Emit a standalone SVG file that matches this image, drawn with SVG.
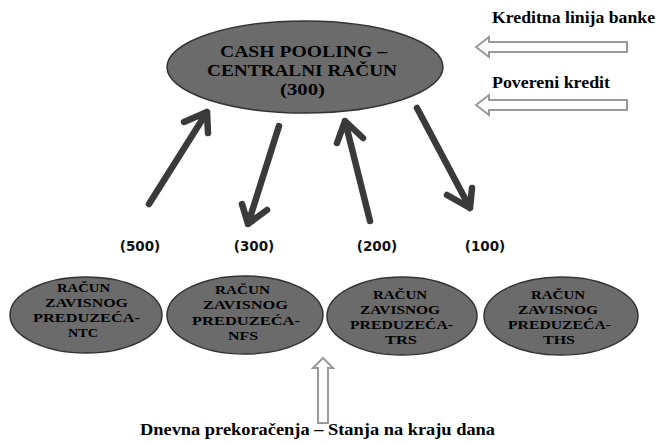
<svg xmlns="http://www.w3.org/2000/svg" width="658" height="444" viewBox="0 0 658 444">
<defs>
<style>
.node{fill:#6b6b6b;stroke:#333;stroke-width:1.5}
.dark{stroke:#3a3a3a;stroke-width:6.5;fill:none;stroke-linecap:round;stroke-linejoin:round}
.hollow{fill:#fff;stroke:#9a9a9a;stroke-width:2}
</style>
</defs>
<rect width="658" height="444" fill="#fff"/>
<g id="central">
<ellipse class="node" cx="305" cy="67" rx="138" ry="46"/>
<text font-family="Liberation Serif" font-weight="bold" font-size="16" x="220" y="57" textLength="167" lengthAdjust="spacingAndGlyphs">CASH POOLING –</text>
<text font-family="Liberation Serif" font-weight="bold" font-size="16" x="207" y="76" textLength="190" lengthAdjust="spacingAndGlyphs">CENTRALNI RAČUN</text>
<text font-family="Liberation Serif" font-weight="bold" font-size="16" x="280" y="95" textLength="45" lengthAdjust="spacingAndGlyphs">(300)</text>
</g>
<g id="ntc">
<ellipse class="node" cx="86" cy="315" rx="76" ry="38"/>
<text font-family="Liberation Serif" font-weight="bold" font-size="13" x="57" y="292" textLength="53" lengthAdjust="spacingAndGlyphs">RAČUN</text>
<text font-family="Liberation Serif" font-weight="bold" font-size="13" x="45" y="307" textLength="83" lengthAdjust="spacingAndGlyphs">ZAVISNOG</text>
<text font-family="Liberation Serif" font-weight="bold" font-size="13" x="33" y="322" textLength="107" lengthAdjust="spacingAndGlyphs">PREDUZEĆA-</text>
<text font-family="Liberation Serif" font-weight="bold" font-size="13" x="68" y="337" textLength="30" lengthAdjust="spacingAndGlyphs">NTC</text>
</g>
<g id="nfs">
<ellipse class="node" cx="245" cy="315" rx="78" ry="39"/>
<text font-family="Liberation Serif" font-weight="bold" font-size="13" x="215" y="294" textLength="55" lengthAdjust="spacingAndGlyphs">RAČUN</text>
<text font-family="Liberation Serif" font-weight="bold" font-size="13" x="203" y="309" textLength="85" lengthAdjust="spacingAndGlyphs">ZAVISNOG</text>
<text font-family="Liberation Serif" font-weight="bold" font-size="13" x="192" y="325" textLength="108" lengthAdjust="spacingAndGlyphs">PREDUZEĆA-</text>
<text font-family="Liberation Serif" font-weight="bold" font-size="13" x="228" y="340" textLength="30" lengthAdjust="spacingAndGlyphs">NFS</text>
</g>
<g id="trs">
<ellipse class="node" cx="402" cy="316" rx="75" ry="39"/>
<text font-family="Liberation Serif" font-weight="bold" font-size="13" x="373" y="299" textLength="54" lengthAdjust="spacingAndGlyphs">RAČUN</text>
<text font-family="Liberation Serif" font-weight="bold" font-size="13" x="360" y="314" textLength="80" lengthAdjust="spacingAndGlyphs">ZAVISNOG</text>
<text font-family="Liberation Serif" font-weight="bold" font-size="13" x="350" y="329" textLength="103" lengthAdjust="spacingAndGlyphs">PREDUZEĆA-</text>
<text font-family="Liberation Serif" font-weight="bold" font-size="13" x="385" y="344" textLength="32" lengthAdjust="spacingAndGlyphs">TRS</text>
</g>
<g id="ths">
<ellipse class="node" cx="561" cy="316" rx="77" ry="39"/>
<text font-family="Liberation Serif" font-weight="bold" font-size="13" x="531" y="299" textLength="54" lengthAdjust="spacingAndGlyphs">RAČUN</text>
<text font-family="Liberation Serif" font-weight="bold" font-size="13" x="518" y="314" textLength="80" lengthAdjust="spacingAndGlyphs">ZAVISNOG</text>
<text font-family="Liberation Serif" font-weight="bold" font-size="13" x="508" y="329" textLength="103" lengthAdjust="spacingAndGlyphs">PREDUZEĆA-</text>
<text font-family="Liberation Serif" font-weight="bold" font-size="13" x="543" y="344" textLength="32" lengthAdjust="spacingAndGlyphs">THS</text>
</g>
<g id="labels">
<text font-family="Liberation Serif" font-weight="bold" font-size="16" x="492" y="23" textLength="163" lengthAdjust="spacingAndGlyphs">Kreditna linija banke</text>
<text font-family="Liberation Serif" font-weight="bold" font-size="16" x="492" y="88" textLength="118" lengthAdjust="spacingAndGlyphs">Povereni kredit</text>
<text font-family="Liberation Serif" font-weight="bold" font-size="16" x="140" y="435" textLength="355" lengthAdjust="spacingAndGlyphs">Dnevna prekoračenja – Stanja na kraju dana</text>
</g>
<g id="amounts">
<text font-family="DejaVu Sans" font-weight="bold" font-size="13.5" fill="#111" text-anchor="middle" x="140" y="251">(500)</text>
<text font-family="DejaVu Sans" font-weight="bold" font-size="13.5" fill="#111" text-anchor="middle" x="254" y="251">(300)</text>
<text font-family="DejaVu Sans" font-weight="bold" font-size="13.5" fill="#111" text-anchor="middle" x="377" y="251">(200)</text>
<text font-family="DejaVu Sans" font-weight="bold" font-size="13.5" fill="#111" text-anchor="middle" x="485" y="251">(100)</text>
</g>
<g id="connectors">
<path class="dark" d="M149 204 L207 112 M184 122 L207 112 L208 133"/>
<path class="dark" d="M279 126 L248 224 M242 204 L248 224 L267 210"/>
<path class="dark" d="M370 221 L345 121 M337 143 L345 121 L363 138"/>
<path class="dark" d="M417 108 L470 208 M447 195 L470 208 L472 188"/>
<path class="hollow" d="M476 47 L489 37 L489 42 L627 42 L627 52 L489 52 L489 57 Z"/>
<path class="hollow" d="M476 105 L489 95 L489 100 L627 100 L627 110 L489 110 L489 115 Z"/>
<path class="hollow" d="M323 358 L333 368 L328 368 L328 423 L318 423 L318 368 L313 368 Z"/>
</g>
</svg>
